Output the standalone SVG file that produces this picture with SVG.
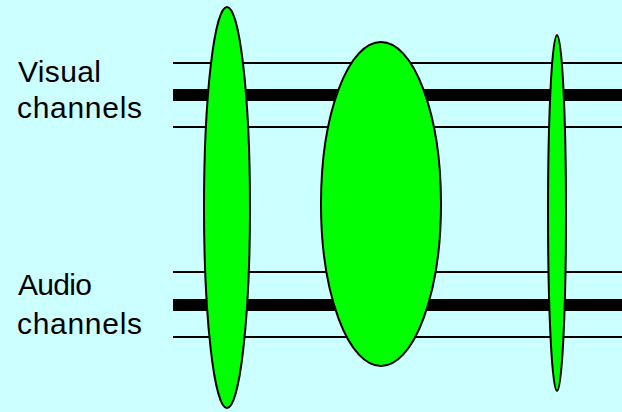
<svg xmlns="http://www.w3.org/2000/svg" width="622" height="412" viewBox="0 0 622 412">
  <style>
    .thin { stroke: #000; stroke-width: 2; }
    .thick { stroke: #000; stroke-width: 12; }
    .oval { fill: #00FF00; stroke: #000; stroke-width: 2; }
    .lbl { font-family: "Liberation Sans", Arial, sans-serif; font-size: 30px; fill: #000; }
  </style>
  <rect x="0" y="0" width="622" height="412" fill="#CCFFFF"/>
  <g id="connectors">
    <line class="thin" x1="173" y1="63" x2="622" y2="63"/>
    <line class="thick" x1="173" y1="95" x2="622" y2="95"/>
    <line class="thin" x1="173" y1="127" x2="622" y2="127"/>
    <line class="thin" x1="173" y1="272" x2="622" y2="272"/>
    <line class="thick" x1="173" y1="305" x2="622" y2="305"/>
    <line class="thin" x1="173" y1="337" x2="622" y2="337"/>
  </g>
  <g id="label-visual">
    <text class="lbl" x="18" y="82" textLength="83" lengthAdjust="spacing">Visual</text>
    <text class="lbl" x="17" y="118" textLength="125" lengthAdjust="spacing">channels</text>
  </g>
  <g id="label-audio">
    <text class="lbl" x="18" y="295" textLength="74" lengthAdjust="spacing">Audio</text>
    <text class="lbl" x="17" y="334" textLength="125" lengthAdjust="spacing">channels</text>
  </g>
  <g id="ellipse1">
    <ellipse class="oval" cx="227" cy="207.5" rx="23" ry="200.5"/>
  </g>
  <g id="ellipse2">
    <ellipse class="oval" cx="381" cy="204" rx="60" ry="162"/>
  </g>
  <g id="ellipse3">
    <ellipse class="oval" cx="557" cy="213" rx="9" ry="178"/>
  </g>
</svg>
